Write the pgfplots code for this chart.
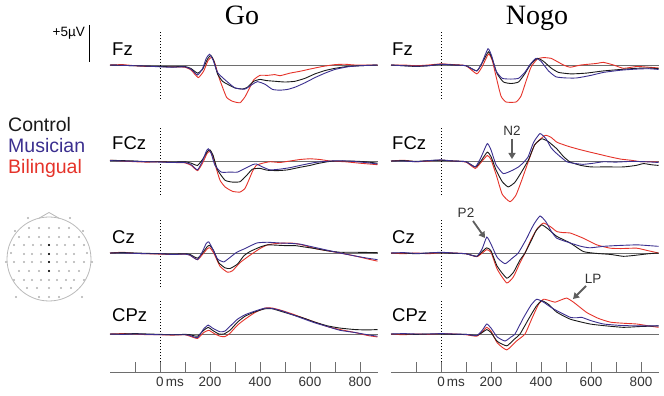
\documentclass[border=0pt]{standalone}
\usepackage{pgfplots}
\pgfplotsset{compat=1.18}
\usepackage{fontspec}
\setmainfont{Liberation Sans}
\newfontfamily\titlefont{Liberation Serif}
\usetikzlibrary{arrows.meta}
\definecolor{ctrl}{HTML}{1A1A1A}
\definecolor{mus}{HTML}{3B2F8F}
\definecolor{bil}{HTML}{E5332A}
\definecolor{basegray}{HTML}{6E6E6E}
\definecolor{annot}{HTML}{5E5E5E}
\pgfplotsset{
  panel/.style={hide axis, scale only axis, x=0.25pt, y=7.4pt,
    xmin=-200, xmax=870, ymin=-6, ymax=6, clip=false, anchor=origin},
  tr/.style={line width=0.9pt, smooth, tension=0.3},
  timeax/.style={scale only axis, x=0.25pt, y=1pt, xmin=-200, xmax=870, ymin=0, ymax=10,
    anchor=origin, axis x line=bottom, axis y line=none,
    axis line style={-, basegray, line width=0.8pt},
    xtick={-100,0,...,800}, xticklabels={,0\rlap{\,ms},,200,,400,,600,,800},
    tick align=inside, major tick length=10pt,
    tick style={basegray, line width=0.8pt},
    xticklabel style={font=\fontsize{13.5}{14}\selectfont, text=black!80, yshift=-1.5pt},
    /pgf/number format/assume math mode=true}
}
\newcommand{\panelframe}{%
  \draw[basegray, line width=0.8pt] (axis cs:-200,0) -- (axis cs:870,0);
  \draw[black, line width=0.7pt, dash pattern=on 1.5pt off 1.5pt] (axis cs:0,-4.6) -- (axis cs:0,4.4);}
\begin{document}
\begin{tikzpicture}[x=1pt, y=1pt]
\path[use as bounding box] (0pt,0pt) rectangle (664pt,396pt);
% titles
\node[anchor=base, font=\titlefont\fontsize{28}{30}\selectfont] at (242pt,371pt) {Go};
\node[anchor=base, font=\titlefont\fontsize{28}{30}\selectfont] at (537pt,371pt) {Nogo};
% scale bar
\draw[black, line width=0.8pt] (89pt,371pt) -- (89pt,334pt);
\node[anchor=base east, inner sep=0pt, font=\fontsize{13.5}{14}\selectfont] at (85pt,359pt) {+5µV};
% legend
\node[anchor=base west, inner sep=0pt, font=\fontsize{19.5}{21}\selectfont, text=ctrl] at (8pt,264pt) {Control};
\node[anchor=base west, inner sep=0pt, font=\fontsize{19.5}{21}\selectfont, text=mus] at (8pt,243pt) {Musician};
\node[anchor=base west, inner sep=0pt, font=\fontsize{19.5}{21}\selectfont, text=bil] at (8pt,222pt) {Bilingual};
% electrode labels
\foreach \xx in {112,392}{
  \node[anchor=base west, inner sep=0pt, font=\fontsize{18.5}{20}\selectfont] at (\xx pt,340pt) {Fz};
  \node[anchor=base west, inner sep=0pt, font=\fontsize{18.5}{20}\selectfont] at (\xx pt,246pt) {FCz};
  \node[anchor=base west, inner sep=0pt, font=\fontsize{18.5}{20}\selectfont] at (\xx pt,152pt) {Cz};
  \node[anchor=base west, inner sep=0pt, font=\fontsize{18.5}{20}\selectfont] at (\xx pt,74pt) {CPz};
}
% head
\begin{axis}[hide axis, scale only axis, x=1pt, y=1pt, xmin=-50, xmax=50, ymin=-50, ymax=50,
  anchor=origin, at={(49pt,137pt)}, clip=false]
\draw[gray!55, line width=0.8pt] (axis cs:0,0) circle[radius=42pt];
\draw[gray!55, line width=0.8pt] (axis cs:-10,40.8) -- (axis cs:0,46.5) -- (axis cs:10,40.8);
\addplot[only marks, mark=*, mark size=0.9pt, gray!55] coordinates {
 (-21,41)(21,41)
 (-20,31)(-10,31)(0,31)(10,31)(20,31)(-34,28)(34,28)
 (-30,22)(-20,22)(-10,22)(0,22)(10,22)(20,22)(30,22)
 (-35,14)(-25,14)(-16,14)(-8,14)(8,14)(16,14)(25,14)(35,14)
 (-25,5)(-17,5)(-8,5)(8,5)(17,5)(25,5)(-38,6)(38,6)
 (-43,-3)(-35,-3)(-25,-3)(-17,-3)(-8,-3)(8,-3)(17,-3)(25,-3)(35,-3)(43,-3)
 (-30,-12)(-20,-12)(-10,-12)(10,-12)(20,-12)(30,-12)
 (-35,-21)(-25,-21)(-17,-21)(-8,-21)(0,-21)(8,-21)(17,-21)(25,-21)(35,-21)
 (-22,-29)(-12,-29)(0,-29)(12,-29)(22,-29)
 (-10,-38)(0,-38)(10,-38)(-33,-38)(33,-38)
};
\addplot[only marks, mark=*, mark size=0.9pt, black] coordinates {(0,14)(0,5)(0,-3)(0,-12)};
\end{axis}
% ================= GO =================
% Fz
\begin{axis}[panel, at={(160pt,331pt)}]
\panelframe
\addplot[tr, bil] coordinates {(-200,0)(-150,0.05)(-100,-0.1)(-50,-0.2)(0,-0.2)(50,-0.25)(100,-0.3)(125,-0.7)(153,-1.7)(175,-0.8)(192,0.6)(207,1.05)(220,0.2)(235,-1.6)(250,-3.0)(267,-4.4)(290,-4.9)(320,-5.1)(340,-4.3)(360,-3.0)(375,-2.0)(400,-1.4)(430,-1.4)(460,-1.3)(480,-1.45)(520,-1.1)(560,-0.85)(600,-0.55)(650,-0.2)(700,0.05)(740,0.1)(780,0)(870,0)};
\addplot[tr, ctrl] coordinates {(-200,0)(-150,-0.05)(-100,-0.1)(-50,-0.15)(0,-0.2)(50,-0.25)(100,-0.2)(125,-0.5)(150,-1.1)(170,-0.6)(190,0.8)(203,1.3)(215,0.6)(230,-1.2)(250,-2.2)(270,-2.6)(300,-3.1)(330,-3.25)(350,-3.0)(375,-2.2)(400,-1.95)(425,-2.1)(460,-2.2)(500,-2.3)(540,-2.2)(580,-1.8)(620,-1.2)(660,-0.75)(700,-0.45)(750,-0.2)(800,-0.1)(870,0)};
\addplot[tr, mus] coordinates {(-200,0)(-150,-0.05)(-100,-0.1)(-50,-0.15)(0,-0.25)(50,-0.3)(100,-0.25)(125,-0.6)(150,-1.35)(170,-0.5)(185,0.9)(198,1.45)(212,0.7)(230,-1.0)(260,-2.0)(300,-3.1)(340,-3.25)(370,-2.6)(390,-2.25)(420,-2.6)(450,-3.3)(480,-3.4)(510,-3.3)(540,-3.0)(580,-2.4)(620,-1.7)(660,-1.1)(700,-0.6)(750,-0.25)(800,-0.1)(870,0)};
\end{axis}
% FCz
\begin{axis}[panel, at={(160pt,235pt)}]
\panelframe
\addplot[tr, bil] coordinates {(-200,0.1)(-150,0)(-100,-0.1)(-50,-0.15)(0,-0.1)(50,-0.2)(100,-0.25)(125,-0.6)(150,-1.3)(170,-0.3)(188,1.0)(200,1.3)(212,0.6)(225,-1.0)(240,-2.6)(260,-3.5)(290,-4.1)(320,-4.2)(340,-3.7)(355,-2.6)(370,-1.4)(385,-0.6)(410,-0.3)(440,-0.1)(480,-0.2)(520,0)(560,0.2)(600,0.3)(640,0.2)(680,0)(740,-0.1)(800,-0.3)(870,-0.5)};
\addplot[tr, ctrl] coordinates {(-200,0.1)(-150,0.05)(-100,0)(-50,-0.1)(0,-0.1)(50,-0.15)(100,-0.1)(125,-0.3)(150,-0.6)(170,0.2)(190,1.3)(200,1.5)(212,0.8)(230,-1.2)(260,-2.6)(290,-2.85)(320,-2.8)(345,-2.0)(370,-1.1)(400,-1.0)(430,-1.25)(470,-1.3)(510,-1.2)(560,-0.85)(600,-0.6)(630,-0.35)(670,-0.1)(700,0)(760,0)(820,-0.1)(870,-0.3)};
\addplot[tr, mus] coordinates {(-200,0.05)(-150,0)(-100,-0.05)(-50,-0.1)(0,-0.15)(50,-0.2)(100,-0.2)(125,-0.5)(150,-1.2)(170,0)(185,1.3)(193,1.66)(205,1.0)(220,-0.6)(245,-1.5)(280,-1.5)(310,-1.5)(340,-1.0)(370,-0.5)(385,-0.4)(410,-0.8)(440,-1.2)(480,-1.1)(520,-0.9)(560,-0.6)(620,-0.2)(680,0)(750,0)(820,-0.2)(870,-0.4)};
\end{axis}
% Cz
\begin{axis}[panel, at={(160pt,143pt)}]
\panelframe
\addplot[tr, bil] coordinates {(-200,0)(-150,0.1)(-100,-0.05)(-50,-0.1)(0,-0.15)(50,-0.2)(100,-0.15)(120,-0.3)(150,-0.9)(170,-0.2)(190,0.6)(200,0.7)(215,0.0)(240,-1.8)(270,-2.6)(290,-2.4)(320,-1.3)(360,-0.3)(400,0.6)(430,1.1)(470,1.3)(510,1.35)(540,1.3)(580,1.0)(620,0.6)(670,0.3)(720,0.0)(780,-0.4)(830,-0.8)(870,-1.1)};
\addplot[tr, ctrl] coordinates {(-200,0)(-150,0.05)(-100,0)(-50,-0.05)(0,-0.1)(50,-0.15)(100,-0.1)(120,-0.2)(150,-0.7)(170,0)(190,0.9)(200,1.0)(215,0.3)(235,-1.3)(260,-2.0)(280,-2.1)(310,-1.5)(335,-0.4)(360,0.2)(400,0.8)(430,1.1)(470,1.05)(500,1.0)(540,1.0)(580,0.8)(620,0.6)(670,0.3)(720,0.1)(780,0.1)(870,0.05)};
\addplot[tr, mus] coordinates {(-200,0)(-150,0)(-100,-0.05)(-50,-0.1)(0,-0.1)(50,-0.2)(100,-0.15)(120,-0.3)(150,-0.9)(170,0.2)(185,1.3)(195,1.5)(210,0.6)(230,-0.8)(255,-1.2)(280,-0.6)(307,0.1)(340,0.6)(387,1.35)(430,1.45)(480,1.35)(520,1.3)(560,1.2)(600,0.9)(640,0.6)(680,0.3)(720,0.0)(780,-0.4)(830,-0.7)(870,-0.9)};
\end{axis}
% CPz
\begin{axis}[panel, at={(160pt,62pt)}]
\panelframe
\addplot[tr, bil] coordinates {(-200,0)(-150,0.05)(-100,0)(-50,-0.1)(0,-0.1)(50,-0.15)(100,-0.1)(120,-0.3)(150,-0.6)(175,0.2)(195,0.5)(215,0.1)(240,-0.3)(260,-0.35)(280,0.1)(310,1.2)(340,2.0)(380,2.9)(420,3.5)(450,3.5)(490,3.15)(530,2.7)(570,2.2)(620,1.6)(670,1.0)(720,0.6)(780,0.2)(830,-0.2)(870,-0.4)};
\addplot[tr, ctrl] coordinates {(-200,0)(-150,0)(-100,0.05)(-50,0)(0,-0.05)(50,-0.1)(100,-0.05)(120,-0.1)(150,-0.3)(175,0.5)(193,0.9)(210,0.5)(235,0.0)(255,0.0)(280,0.5)(310,1.6)(340,2.4)(380,3.0)(420,3.4)(450,3.4)(490,3.0)(530,2.6)(570,2.2)(620,1.6)(670,1.1)(720,0.8)(780,0.6)(830,0.55)(870,0.6)};
\addplot[tr, mus] coordinates {(-200,0)(-150,-0.05)(-100,0)(-50,-0.05)(0,-0.1)(50,-0.1)(100,-0.1)(120,-0.2)(150,-0.5)(175,0.7)(193,1.2)(210,0.8)(240,0.3)(260,0.4)(285,1.2)(310,2.0)(340,2.6)(380,3.1)(420,3.5)(450,3.45)(490,3.1)(530,2.6)(570,2.1)(620,1.5)(670,1.0)(720,0.5)(780,0.2)(830,-0.1)(870,-0.3)};
\end{axis}
% ================= NOGO =================
% Fz
\begin{axis}[panel, at={(441pt,331pt)}]
\panelframe
\addplot[tr, bil] coordinates {(-200,0)(-150,0.0)(-100,-0.1)(-50,0.0)(0,0.15)(50,0.05)(100,-0.1)(143,-1.2)(165,-0.2)(190,1.5)(205,0.6)(222,-1.8)(240,-4.2)(260,-5.0)(300,-5.0)(320,-4.2)(340,-2.2)(360,-0.3)(385,0.8)(410,1.0)(440,0.9)(463,0.5)(490,0.0)(517,-0.3)(560,0.0)(620,0.2)(650,0.35)(690,0.0)(730,-0.45)(783,-0.2)(830,-0.3)(870,-0.4)};
\addplot[tr, ctrl] coordinates {(-200,0)(-150,-0.1)(-100,-0.2)(-50,-0.1)(0,0.1)(50,0.0)(100,-0.1)(143,-0.8)(165,0.3)(190,1.8)(205,0.8)(225,-1.2)(250,-2.3)(280,-2.5)(310,-2.3)(335,-1.2)(357,0.0)(385,0.9)(410,0.5)(440,-0.4)(470,-1.0)(520,-1.2)(580,-1.1)(650,-0.8)(720,-0.6)(780,-0.45)(830,-0.4)(870,-0.5)};
\addplot[tr, mus] coordinates {(-200,0)(-150,-0.1)(-100,-0.15)(-50,-0.1)(0,0.1)(50,0.0)(100,-0.1)(143,-0.8)(165,0.4)(188,2.2)(203,1.2)(220,-0.8)(245,-1.8)(280,-1.9)(310,-1.8)(335,-1.0)(357,0.1)(380,0.9)(400,0.5)(430,-0.8)(460,-1.6)(500,-1.75)(543,-1.75)(600,-1.4)(650,-1.0)(720,-0.7)(783,-0.55)(830,-0.5)(870,-0.6)};
\end{axis}
% FCz
\begin{axis}[panel, at={(441pt,235pt)}]
\panelframe
\addplot[tr, bil] coordinates {(-200,0)(-150,0.1)(-100,-0.1)(-50,0)(0,0.1)(50,0)(100,-0.15)(137,-1.0)(160,-0.2)(185,0.75)(200,0.2)(222,-2.0)(245,-4.5)(276,-5.5)(300,-4.6)(325,-2.4)(349,-0.1)(375,2.2)(416,3.45)(440,3.2)(463,2.55)(490,2.2)(517,1.9)(560,1.5)(596,1.2)(640,0.85)(677,0.55)(720,0.25)(760,0.1)(800,-0.1)(840,-0.1)(870,-0.15)};
\addplot[tr, ctrl] coordinates {(-200,0)(-150,0.05)(-100,-0.05)(-50,0.05)(0,0.1)(50,0.0)(100,-0.1)(137,-0.8)(160,0.0)(185,1.2)(200,0.6)(220,-1.2)(245,-2.8)(269,-3.5)(295,-2.9)(320,-1.6)(349,0.1)(375,2.2)(403,3.0)(430,2.6)(463,1.65)(490,0.6)(517,-0.15)(560,-0.6)(600,-0.8)(660,-0.8)(730,-0.8)(780,-0.6)(810,-0.35)(840,-0.5)(870,-0.6)};
\addplot[tr, mus] coordinates {(-200,0)(-150,0)(-100,-0.1)(-50,0.05)(0,0.15)(50,0.0)(100,-0.1)(137,-0.8)(160,0.5)(185,2.35)(200,1.5)(220,-0.5)(249,-1.7)(283,-1.3)(310,-0.8)(330,-0.2)(349,0.6)(370,2.5)(396,3.7)(420,3.0)(440,1.8)(463,1.0)(503,-0.1)(540,-0.35)(569,-0.45)(610,-0.3)(650,-0.1)(700,-0.15)(760,-0.05)(820,-0.1)(870,-0.2)};
\end{axis}
% Cz
\begin{axis}[panel, at={(441pt,143pt)}]
\panelframe
\addplot[tr, bil] coordinates {(-200,0)(-150,-0.1)(-100,0)(-50,-0.1)(0,0.05)(50,0)(100,-0.1)(143,-0.5)(165,0.0)(183,0.45)(200,0.1)(225,-2.2)(263,-4.05)(290,-3.2)(315,-1.4)(336,0.0)(360,1.8)(385,3.3)(410,4.05)(440,3.5)(463,2.9)(490,2.75)(517,2.7)(569,2.0)(623,1.1)(677,0.65)(720,0.6)(783,0.65)(830,0.3)(870,0.0)};
\addplot[tr, ctrl] coordinates {(-200,0)(-150,0)(-100,-0.1)(-50,0)(0,0.05)(50,-0.05)(100,-0.1)(143,-0.45)(165,0.2)(183,0.7)(200,0.3)(225,-1.8)(263,-3.4)(290,-2.6)(315,-1.0)(336,0.0)(360,1.6)(380,3.0)(403,3.8)(430,3.2)(463,2.25)(517,1.35)(569,0.2)(620,-0.05)(680,-0.2)(730,-0.45)(780,-0.3)(830,-0.1)(870,0.0)};
\addplot[tr, mus] coordinates {(-200,0)(-150,0.05)(-100,-0.05)(-50,0)(0,0.1)(50,0)(100,-0.1)(143,-0.45)(165,0.6)(183,2.15)(200,1.2)(225,-0.6)(256,-1.45)(285,-0.7)(309,0.0)(340,1.8)(370,3.8)(396,5.0)(420,4.2)(440,3.0)(463,2.0)(517,1.35)(560,0.9)(596,0.7)(650,0.9)(700,1.0)(783,1.1)(830,1.0)(870,0.9)};
\end{axis}
% CPz
\begin{axis}[panel, at={(441pt,62pt)}]
\panelframe
\addplot[tr, bil] coordinates {(-200,0)(-150,-0.1)(-100,0)(-50,-0.05)(0,0.05)(50,0)(100,-0.1)(143,-0.3)(165,0.3)(183,0.9)(200,0.4)(225,-1.2)(263,-2.15)(300,-1.0)(336,0.0)(365,2.2)(390,4.0)(410,4.7)(435,4.5)(456,4.3)(480,4.6)(503,4.85)(530,4.3)(583,2.9)(630,2.1)(677,1.6)(730,1.45)(783,1.35)(830,1.1)(870,0.9)};
\addplot[tr, ctrl] coordinates {(-200,0)(-150,0)(-100,-0.05)(-50,0)(0,0)(50,-0.05)(100,-0.05)(143,-0.2)(165,0.2)(183,0.6)(200,0.2)(225,-1.0)(263,-1.6)(290,-0.8)(316,0.0)(350,2.0)(380,3.7)(403,4.5)(430,4.0)(463,2.95)(517,2.0)(596,1.35)(660,1.1)(730,0.9)(790,1.0)(830,1.05)(870,1.1)};
\addplot[tr, mus] coordinates {(-200,0)(-150,0.05)(-100,0)(-50,0)(0,0.05)(50,0)(100,-0.05)(143,-0.2)(165,0.5)(183,1.35)(200,0.8)(225,-0.4)(256,-0.95)(280,-0.4)(296,0.0)(330,2.2)(360,3.9)(383,4.7)(410,4.3)(440,3.6)(463,3.15)(517,2.25)(545,2.2)(563,2.25)(600,1.8)(650,1.35)(720,1.15)(783,1.1)(830,1.1)(870,1.1)};
\end{axis}
% time axes
\begin{axis}[timeax, at={(160pt,24pt)}]
\draw[mus, line width=0.8pt] (axis cs:-200,0) -- (axis cs:0,0);
\end{axis}
\begin{axis}[timeax, at={(441pt,24pt)}]
\draw[mus, line width=0.8pt] (axis cs:-200,0) -- (axis cs:0,0);
\end{axis}
% annotations
\node[font=\fontsize{13.5}{14}\selectfont, text=black!80] at (512pt,265pt) {N2};
\draw[annot, line width=1.8pt, -{Triangle[width=7pt,length=6pt]}] (512pt,257pt) -- (512pt,237pt);
\node[font=\fontsize{13.5}{14}\selectfont, text=black!80] at (466pt,183pt) {P2};
\draw[annot, line width=1.8pt, -{Triangle[width=7pt,length=6pt]}] (473pt,175pt) -- (485pt,158pt);
\node[font=\fontsize{13.5}{14}\selectfont, text=black!80] at (593pt,117pt) {LP};
\draw[annot, line width=1.8pt, -{Triangle[width=7pt,length=6pt]}] (586pt,110pt) -- (573pt,97pt);
\end{tikzpicture}
\end{document}
